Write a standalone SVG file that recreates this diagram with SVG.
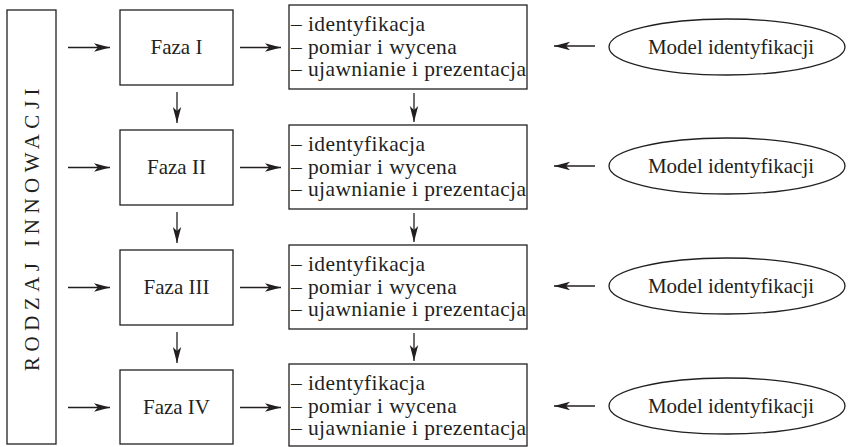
<svg xmlns="http://www.w3.org/2000/svg" width="850" height="447" viewBox="0 0 850 447" font-family="'Liberation Serif', 'Times New Roman', Times, serif">
<style>
.box{fill:#fff;stroke:#231f20;stroke-width:1.3}
.ln{fill:none;stroke:#231f20;stroke-width:1.3}
text{font-family:'Liberation Serif','Times New Roman',Times,serif;fill:#231f20}
.faza{font-size:21px;text-anchor:middle}
.lst{font-size:21.5px;letter-spacing:0.4px}
.mdl{font-size:21px;text-anchor:middle}
.side{font-size:21px;text-anchor:middle;letter-spacing:5.5px}
</style>
<defs>
<marker id="ah" viewBox="0 0 16 10" refX="16" refY="5" markerWidth="16" markerHeight="10" markerUnits="userSpaceOnUse" orient="auto">
<path d="M0,0.8 L16,5 L0,9.2 L4,5 Z" fill="#231f20"/>
</marker>
</defs>
<rect width="850" height="447" fill="#fff"/>
<g id="side">
<rect class="box" x="7" y="10" width="49" height="434"/>
<text class="side" transform="translate(39,227) rotate(-90)">RODZAJ  INNOWACJI</text>
</g>
<g id="faza1"><rect class="box" x="120" y="10" width="113" height="75"/><text class="faza" x="176.5" y="54">Faza I</text></g>
<g id="faza2"><rect class="box" x="120" y="130" width="113" height="75"/><text class="faza" x="176.5" y="174">Faza II</text></g>
<g id="faza3"><rect class="box" x="120" y="250" width="113" height="75"/><text class="faza" x="176.5" y="294">Faza III</text></g>
<g id="faza4"><rect class="box" x="120" y="370" width="113" height="74"/><text class="faza" x="176.5" y="414">Faza IV</text></g>
<g id="lista1"><rect class="box" x="289" y="5" width="238" height="84"/>
<text class="lst" x="291" y="31">– identyfikacja</text><text class="lst" x="291" y="53.5">– pomiar i wycena</text><text class="lst" x="291" y="76">– ujawnianie i prezentacja</text></g>
<g id="lista2"><rect class="box" x="289" y="125" width="238" height="84"/>
<text class="lst" x="291" y="151">– identyfikacja</text><text class="lst" x="291" y="173.5">– pomiar i wycena</text><text class="lst" x="291" y="196">– ujawnianie i prezentacja</text></g>
<g id="lista3"><rect class="box" x="289" y="245" width="238" height="84"/>
<text class="lst" x="291" y="271">– identyfikacja</text><text class="lst" x="291" y="293.5">– pomiar i wycena</text><text class="lst" x="291" y="316">– ujawnianie i prezentacja</text></g>
<g id="lista4"><rect class="box" x="289" y="364" width="238" height="82"/>
<text class="lst" x="291" y="390">– identyfikacja</text><text class="lst" x="291" y="412.5">– pomiar i wycena</text><text class="lst" x="291" y="435">– ujawnianie i prezentacja</text></g>
<g id="model1"><ellipse class="box" cx="727" cy="47" rx="118" ry="28"/><text class="mdl" x="731" y="54">Model identyfikacji</text></g>
<g id="model2"><ellipse class="box" cx="727" cy="166" rx="118" ry="28"/><text class="mdl" x="731" y="173">Model identyfikacji</text></g>
<g id="model3"><ellipse class="box" cx="727" cy="286" rx="118" ry="28"/><text class="mdl" x="731" y="293">Model identyfikacji</text></g>
<g id="model4"><ellipse class="box" cx="727" cy="406" rx="118" ry="28"/><text class="mdl" x="731" y="413">Model identyfikacji</text></g>
<g id="connectors">
<path class="ln" marker-end="url(#ah)" d="M68,47.5H110"/>
<path class="ln" marker-end="url(#ah)" d="M68,167.5H110"/>
<path class="ln" marker-end="url(#ah)" d="M68,287.5H110"/>
<path class="ln" marker-end="url(#ah)" d="M68,407.5H110"/>
<path class="ln" marker-end="url(#ah)" d="M240,47.5H281"/>
<path class="ln" marker-end="url(#ah)" d="M240,167.5H281"/>
<path class="ln" marker-end="url(#ah)" d="M240,287.5H281"/>
<path class="ln" marker-end="url(#ah)" d="M240,407.5H281"/>
<path class="ln" marker-end="url(#ah)" d="M595,46H554"/>
<path class="ln" marker-end="url(#ah)" d="M595,166H554"/>
<path class="ln" marker-end="url(#ah)" d="M595,286H554"/>
<path class="ln" marker-end="url(#ah)" d="M595,406H554"/>
<path class="ln" marker-end="url(#ah)" d="M177,92V123"/>
<path class="ln" marker-end="url(#ah)" d="M177,212V243"/>
<path class="ln" marker-end="url(#ah)" d="M177,332V363"/>
<path class="ln" marker-end="url(#ah)" d="M414,93V122"/>
<path class="ln" marker-end="url(#ah)" d="M414,213V242"/>
<path class="ln" marker-end="url(#ah)" d="M414,333V361"/>
</g>
</svg>
